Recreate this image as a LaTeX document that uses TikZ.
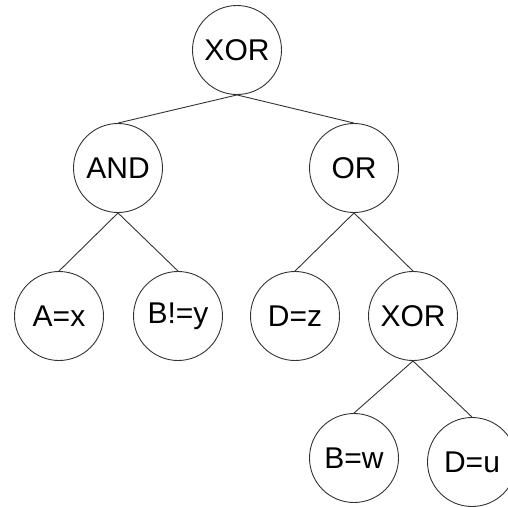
\documentclass[tikz,border=0pt]{standalone}
\usepackage{fontspec}
\setmainfont{Liberation Sans}
\begin{document}
\begin{tikzpicture}[x=1pt,y=-1pt,
  treenode/.style={circle,draw=black!80,line width=0.9pt,minimum size=89pt,inner sep=0pt,
    font=\fontsize{30}{36}\selectfont},
  edge/.style={draw=black!80,line width=0.9pt}]
\useasboundingbox (0,0) rectangle (508,506);
\clip (0,0) rectangle (508,506);
% nodes of the expression tree
\node[treenode] (root) at (237,50) {XOR};
\node[treenode] (and) at (118,168) {AND};
\node[treenode] (or) at (354,168) {OR};
\node[treenode] (ax) at (59,316) {A=x};
\node[treenode] (by) at (178,316) {B!=y};
\node[treenode] (dz) at (295,316) {D=z};
\node[treenode] (xor2) at (413,316) {XOR};
\node[treenode] (bw) at (354,458) {B=w};
\node[treenode] (du) at (472,462) {D=u};
% edges from parent to children
\draw[edge] (root.south) -- (and.north);
\draw[edge] (root.south) -- (or.north);
\draw[edge] (and.south) -- (ax.north);
\draw[edge] (and.south) -- (by.north);
\draw[edge] (or.south) -- (dz.north);
\draw[edge] (or.south) -- (xor2.north);
\draw[edge] (xor2.south) -- (bw.north);
\draw[edge] (xor2.south) -- (du.north);
\end{tikzpicture}
\end{document}
